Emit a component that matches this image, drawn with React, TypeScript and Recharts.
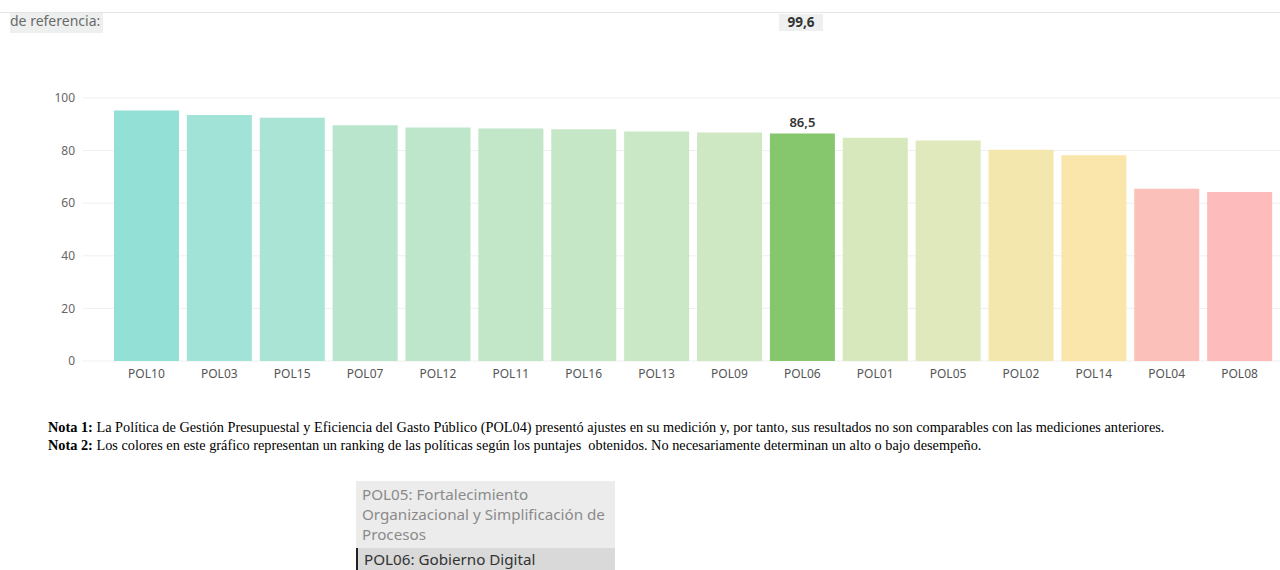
import { BarChart, Bar, XAxis, YAxis, CartesianGrid, Cell, LabelList } from "recharts";

const policies = [
  "POL10", "POL03", "POL15", "POL07", "POL12", "POL11", "POL16", "POL13",
  "POL09", "POL06", "POL01", "POL05", "POL02", "POL14", "POL04", "POL08",
];

const scores = [95.2, 93.5, 92.5, 89.6, 88.8, 88.4, 88.1, 87.3, 86.9, 86.5, 84.9, 83.8, 80.3, 78.2, 65.5, 64.3];

const barColors = [
  "#93e0d6", "#a2e3d7", "#a9e4d5", "#b9e5cd", "#bee6cb", "#c2e6c8", "#c6e7c6", "#cae8c5",
  "#cee8c4", "#86c66c", "#d7e8bd", "#dfe9bc", "#f4e7ad", "#fae5ab", "#fcc0bb", "#fdbcbb",
];

const yTicks = [0, 20, 40, 60, 80, 100];

const highlighted = "POL06";
const referenceValue = "99,6";

const data = policies.map((name, i) => ({ name, value: scores[i] }));

const uiFont = "'Noto Sans', 'Open Sans', sans-serif";

function HighlightLabel(props: any) {
  const { x, y, width, value, index } = props;
  if (policies[index] !== highlighted) return null;
  return (
    <text
      x={x + width / 2}
      y={y - 7}
      textAnchor="middle"
      fill="#333"
      fontSize={13}
      fontWeight={600}
      fontFamily={uiFont}
    >
      {String(value).replace(".", ",")}
    </text>
  );
}

export default function App() {
  return (
    <div style={{ position: "absolute", left: 0, top: 0, width: 1280, height: 570, background: "#fff", overflow: "hidden", fontFamily: uiFont }}>
      <div style={{ position: "absolute", left: 0, top: 12, width: 1280, height: 1, background: "#e4e4e4" }} />
      <div style={{ position: "absolute", left: 10, top: 13, width: 93, height: 20, background: "#eef0ef", color: "#6a6a6a", fontSize: 14, lineHeight: "15px", whiteSpace: "nowrap" }}>
        de referencia:
      </div>
      <div style={{ position: "absolute", left: 779, top: 14, width: 44, height: 17, background: "#eef0ef", color: "#333", fontSize: 13.5, fontWeight: 700, lineHeight: "17px", textAlign: "center" }}>
        {referenceValue}
      </div>

      <div style={{ position: "absolute", left: 0, top: 80 }}>
        <BarChart width={1280} height={320} data={data} margin={{ top: 18, right: 0, bottom: 9, left: 0 }} barCategoryGap="5.5%">
          <CartesianGrid vertical={false} stroke="#efefef" />
          <XAxis
            dataKey="name"
            axisLine={false}
            tickLine={false}
            height={30}
            padding={{ left: 27, right: 4 }}
            interval={0}
            tick={{ fill: "#555", fontSize: 12, fontFamily: uiFont }}
          />
          <YAxis
            width={83}
            domain={[0, 100]}
            ticks={yTicks}
            axisLine={false}
            tickLine={false}
            tick={{ fill: "#666", fontSize: 12, fontFamily: uiFont }}
          />
          <Bar dataKey="value" isAnimationActive={false}>
            {data.map((d, i) => (
              <Cell key={d.name} fill={barColors[i]} />
            ))}
            <LabelList dataKey="value" content={HighlightLabel} />
          </Bar>
        </BarChart>
      </div>

      <div style={{ position: "absolute", left: 48, top: 418, fontFamily: "'Liberation Serif', 'Times New Roman', serif", fontSize: 14.3, color: "#000", lineHeight: "18px", whiteSpace: "nowrap" }}>
        <div><b>Nota 1:</b> La Política de Gestión Presupuestal y Eficiencia del Gasto Público (POL04) presentó ajustes en su medición y, por tanto, sus resultados no son comparables con las mediciones anteriores.</div>
        <div><b>Nota 2:</b> Los colores en este gráfico representan un ranking de las políticas según los puntajes &nbsp;obtenidos. No necesariamente determinan un alto o bajo desempeño.</div>
      </div>

      <div style={{ position: "absolute", left: 356, top: 481, width: 259, height: 67, background: "#ececec", color: "#8a8a8a", fontSize: 15.2, lineHeight: "20px", boxSizing: "border-box", padding: "3px 0 0 6px", whiteSpace: "nowrap" }}>
        POL05: Fortalecimiento<br />Organizacional y Simplificación de<br />Procesos
      </div>
      <div style={{ position: "absolute", left: 356, top: 548, width: 259, height: 22, background: "#d9d9d9", color: "#333", fontSize: 15.2, lineHeight: "22px", boxSizing: "border-box", paddingLeft: 6, borderLeft: "2px solid #222", whiteSpace: "nowrap" }}>
        POL06: Gobierno Digital
      </div>
    </div>
  );
}
